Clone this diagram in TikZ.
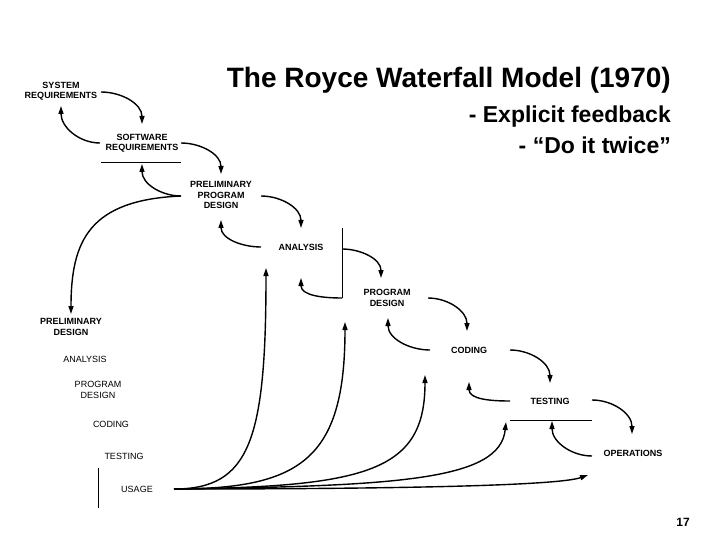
\documentclass[tikz,border=0pt]{standalone}
\usepackage{fontspec}
\setmainfont{Liberation Sans}
\usetikzlibrary{arrows.meta}
\begin{document}
\begin{tikzpicture}[x=1pt,y=-1pt,
  lbl/.style={font=\fontsize{9}{10.5}\selectfont\bfseries,align=center,inner sep=0pt},
  lbn/.style={font=\fontsize{9}{10.5}\selectfont,align=center,inner sep=0pt},
  fl/.style={line width=1.4pt,-{Triangle[length=8pt,width=5pt]}},
  rule/.style={line width=0.7pt}]
\useasboundingbox (0,0) rectangle (720,540);
% title
\node[font=\fontsize{28}{30}\selectfont\bfseries,anchor=east,inner sep=0pt] (title) at (671,80) {The Royce Waterfall Model (1970)};
\node[font=\fontsize{23}{25}\selectfont\bfseries,anchor=east,inner sep=0pt] (fb) at (671,117) {- Explicit feedback};
\node[font=\fontsize{23}{25}\selectfont\bfseries,anchor=east,inner sep=0pt] (tw) at (671,145) {- “Do it twice”};
\node[font=\fontsize{12}{14}\selectfont\bfseries] (pg) at (683,522) {17};
% chain nodes
\node[lbl] (sys) at (61,91) {SYSTEM\\REQUIREMENTS};
\node[lbl] (sw) at (142,143) {SOFTWARE\\REQUIREMENTS};
\node[lbl] (ppd) at (221,195) {PRELIMINARY\\PROGRAM\\DESIGN};
\node[lbl] (an) at (301,247) {ANALYSIS};
\node[lbl] (pd) at (387,298) {PROGRAM\\DESIGN};
\node[lbl] (cd) at (469,350) {CODING};
\node[lbl] (ts) at (550,401) {TESTING};
\node[lbl] (op) at (633,453) {OPERATIONS};
% left column
\node[lbl] (lpd) at (71,327) {PRELIMINARY\\DESIGN};
\node[lbn] (lan) at (85,359) {ANALYSIS};
\node[lbn] (lpg) at (98,390) {PROGRAM\\DESIGN};
\node[lbn] (lcd) at (111,424) {CODING};
\node[lbn] (lts) at (124,456) {TESTING};
\node[lbn] (lus) at (137,489) {USAGE};
% rules
\coordinate (r1a) at (101,162); \coordinate (r1b) at (181,162);
\draw[rule] (r1a) -- (r1b);
\coordinate (r2a) at (510,420); \coordinate (r2b) at (592,420);
\draw[rule] (r2a) -- (r2b);
\coordinate (v1a) at (342,228); \coordinate (v1b) at (342,298);
\draw[rule] (v1a) -- (v1b);
\coordinate (v2a) at (98,468); \coordinate (v2b) at (98,508);
\draw[rule] (v2a) -- (v2b);
% forward arrows
\coordinate (a1) at (101,92);
\draw[fl] (a1) to[out=0,in=90] (142,124);
\draw[fl] (181,143) to[out=0,in=90] (221,174);
\draw[fl] (261,196) to[out=0,in=90] (301,228);
\coordinate (a4) at (342,249);
\draw[fl] (a4) to[out=0,in=90] (381,278);
\draw[fl] (428,298) to[out=0,in=90] (467,331);
\draw[fl] (510,350) to[out=0,in=90] (550,383);
\coordinate (a7) at (592,400);
\draw[fl] (a7) to[out=0,in=90] (632,434);
% back arrows
\draw[fl] (100,143) to[out=180,in=-90] (61,106);
\draw[fl] (181,196) to[out=180,in=-90] (142,164);
\draw[fl] (261,247) to[out=180,in=-90] (221,220);
\draw[fl] (v1b) to[out=180,in=-90] (301,278);
\draw[fl] (430,350) to[out=180,in=-90] (388,318);
\draw[fl] (510,401) to[out=180,in=-90] (469,382);
\draw[fl] (592,456) to[out=180,in=-90] (552,421);
% long feedback
\draw[fl] (181,196) .. controls (90,200) and (71,240) .. (71,314);
% usage feedback
\coordinate (us) at (174,489);
\draw[fl] (us) .. controls (250,489) and (266,440) .. (266,268);
\draw[fl] (us) .. controls (300,489) and (345,460) .. (345,322);
\draw[fl] (us) .. controls (370,487) and (425,470) .. (425,375);
\draw[fl] (us) .. controls (400,486) and (500,480) .. (506,422);
\draw[fl] (us) .. controls (420,489) and (560,485) .. (588,475);
\end{tikzpicture}
\end{document}
